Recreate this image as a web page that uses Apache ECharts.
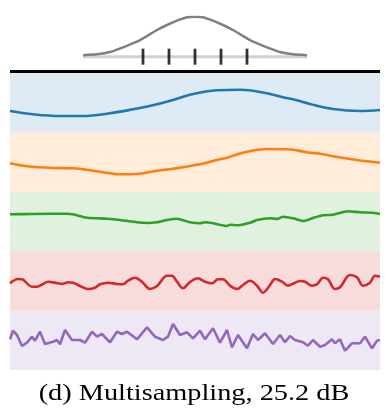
<!DOCTYPE html>
<html>
<head>
<meta charset="utf-8">
<script src="https://cdn.jsdelivr.net/npm/echarts@6/dist/echarts.min.js"></script>
<style>html,body{margin:0;padding:0;background:#fff}#c{width:389px;height:414px}</style>
</head>
<body>
<div id="c"></div>
<script>
// Top kernel (gaussian): offsets from center and heights
var gaussX = [-112,-98,-85,-72,-58,-48,-38,-28,-18,-8,0,8,18,28,38,48,58,72,85,98,112];
var gaussY = [1.5,2.4,4.7,9.4,15,20.7,26.7,31.7,36,39.4,40,39.4,36,31.7,26.7,20.7,15,9.4,4.7,2.4,1.5];
var tickX = [-52,-26,0,26,52];

// Band signals: sample positions and values
var blueX = [0,23,50,73,100,123,147,163,180,207,230,257,273,283,300,323,350,370];
var blueY = [-8.3,-11.6,-13.3,-13.3,-10.6,-6.6,-1.6,2.7,8,12.4,13,9.4,5.4,3.4,-1.3,-6.3,-8.3,-7.3];

var orangeX = [0,17,43,63,83,100,110,130,147,163,190,207,217,233,257,277,300,310,323,347,370];
var orangeY = [-1.2,-4.2,-5.9,-6.2,-8.6,-11.2,-12.2,-11.6,-8.6,-6.6,-2.2,2.1,4.4,9.4,13.1,12.8,9.4,8.4,5.8,2.1,-0.6];

var greenX = [0,23,57,63,77,97,110,127,137,147,157,167,180,190,195,203,217,220,227,240,247,260,267,273,283,293,303,313,323,338,350,363,370];
var greenY = [7.2,7.5,7.8,7.2,3.8,2.8,1.5,-0.8,-1.5,-0.8,1.5,2.8,-0.8,-1.8,-0.8,-1.8,-4.5,-3.2,-3.8,-1.2,1.5,3.2,2.5,4.8,3.2,0.5,3.5,6.2,6.8,10.2,9.2,8.8,7.5];

var redX = [0,8,12,22,27,33,38,48,52,58,63,70,78,85,90,98,107,113,118,125,132,140,147,157,162,167,173,180,188,195,202,208,213,220,227,233,240,247,253,260,265,272,278,290,295,302,307,313,318,325,330,340,347,353,360,365,370];
var redY = [-2.4,1.9,1.6,-5.8,-5.8,-3.1,-0.8,-2.4,-3.1,-1.4,-1.8,-5.1,-8.1,-6.8,-3.4,-1.8,-3.1,-3.4,0.2,3.2,-0.8,-8.1,-5.1,5.2,5.2,-0.8,-7.4,-1.1,2.6,-0.8,-2.4,1.6,1.6,-4.8,-8.1,-4.1,0.2,-4.8,-11.8,-4.1,1.9,-0.8,-4.8,-0.1,-0.8,-4.8,-3.4,3.2,1.6,-8.1,-6.4,5.9,3.6,-4.8,-1.8,5.2,4.2];

var purpleX = [0,3,7,12,17,22,25,30,35,43,47,50,55,62,70,75,82,87,92,100,107,112,117,127,137,145,153,158,163,170,177,183,190,195,203,210,217,222,228,237,243,248,255,263,270,275,280,285,293,298,303,310,315,322,325,330,335,342,350,355,362,367,370];
var purpleY = [1.0,9.6,5.3,-5.7,-2.4,3.6,-0.4,8.6,-3.7,-1.4,0.3,-4.0,10.3,0.3,0.3,-2.4,8.6,3.6,6.3,-2.0,8.6,6.3,8.6,1.0,13.0,3.6,0.3,3.6,16.3,5.3,8.0,2.0,9.6,1.0,12.0,-2.4,10.3,-7.0,5.3,-8.0,6.3,0.3,7.0,-3.7,5.3,-2.0,4.3,0.3,-2.0,-5.4,0.3,-6.4,-4.7,1.0,-3.0,1.0,-10.4,-3.0,-3.0,3.6,-8.0,-0.4,0.3];

var caption = '(d) Multisampling, 25.2 dB';

function zip(a, b) { return a.map(function (v, i) { return [v, b[i]]; }); }

var bands = [
  {x: blueX, y: blueY, color: '#1f77b4', bg: 'rgba(31,119,180,0.15)', smooth: 0.4},
  {x: orangeX, y: orangeY, color: '#ff7f0e', bg: 'rgba(255,127,14,0.15)', smooth: 0.4},
  {x: greenX, y: greenY, color: '#2ca02c', bg: 'rgba(44,160,44,0.15)', smooth: 0.2},
  {x: redX, y: redY, color: '#d62728', bg: 'rgba(214,39,40,0.16)', smooth: 0.35},
  {x: purpleX, y: purpleY, color: '#9467bd', bg: 'rgba(148,103,189,0.16)', smooth: 0}
];

var grids = [], xAxes = [], yAxes = [], series = [];
// top kernel grid
grids.push({left: 83, width: 224, top: 16.7, height: 50});
xAxes.push({type: 'value', gridIndex: 0, min: -112, max: 112, show: false});
yAxes.push({type: 'value', gridIndex: 0, min: -10, max: 40, show: false});
series.push({type: 'line', xAxisIndex: 0, yAxisIndex: 0, data: [[-112, 0], [112, 0]], symbol: 'none',
  lineStyle: {color: '#d0d0d0', width: 3}, silent: true, z: 1});
series.push({type: 'line', xAxisIndex: 0, yAxisIndex: 0, data: zip(gaussX, gaussY), symbol: 'none', smooth: 0.15,
  lineStyle: {color: '#808080', width: 2.5}, silent: true, z: 2});
series.push({type: 'scatter', xAxisIndex: 0, yAxisIndex: 0, data: tickX.map(function (t) { return [t, 0]; }),
  symbol: 'rect', symbolSize: [2.8, 16], itemStyle: {color: '#000'}, clip: false, silent: true, z: 3});

var top0 = 73, bh = 59.4;
bands.forEach(function (b, i) {
  var gi = i + 1;
  grids.push({left: 10, width: 370, top: top0 + i * bh, height: bh, show: true, backgroundColor: b.bg, borderWidth: 0});
  xAxes.push({type: 'value', gridIndex: gi, min: 0, max: 370, show: false});
  yAxes.push({type: 'value', gridIndex: gi, min: -29.7, max: 29.7, show: false});
  series.push({type: 'line', xAxisIndex: gi, yAxisIndex: gi, data: zip(b.x, b.y), symbol: 'none', smooth: b.smooth,
    lineStyle: {color: b.color, width: 2.6}, silent: true});
});

var chart = echarts.init(document.getElementById('c'), null, {renderer: 'canvas'});
chart.setOption({
  animation: false,
  grid: grids, xAxis: xAxes, yAxis: yAxes, series: series,
  graphic: [
    {type: 'rect', left: 10, top: 70, shape: {width: 370, height: 3}, style: {fill: '#000'}, z: 10},
    {type: 'text', x: 194, y: 394, scaleX: 1.18, style: {text: caption, font: '24px "Liberation Serif", "Times New Roman", serif',
      fill: '#000', textAlign: 'center', textVerticalAlign: 'middle'}}
  ]
});
</script>
</body>
</html>
